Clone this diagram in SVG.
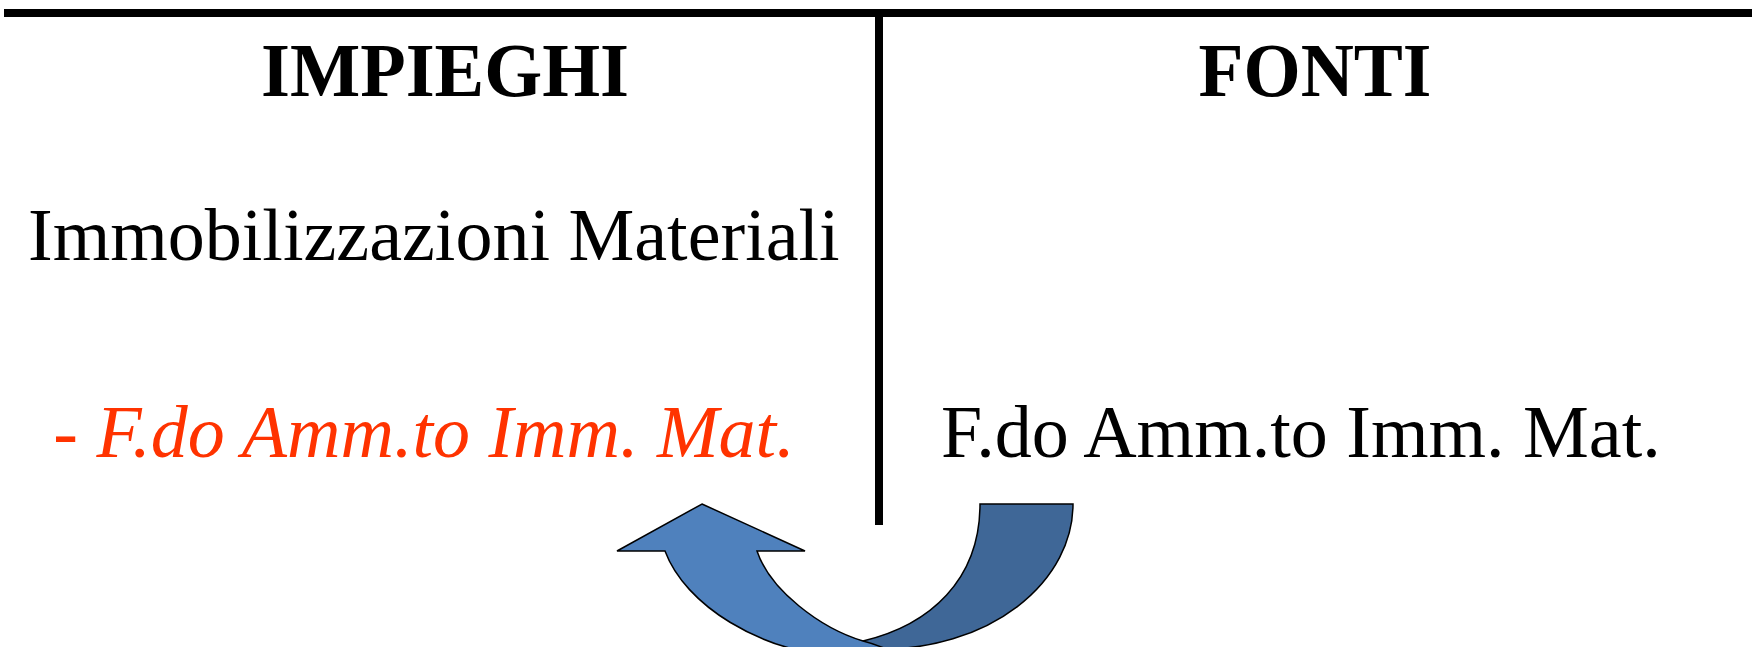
<svg xmlns="http://www.w3.org/2000/svg" width="1756" height="647" viewBox="0 0 1756 647">
<style>
.hdr{font-family:"Liberation Serif","Times New Roman",serif;font-weight:bold;font-size:77px;fill:#000;text-anchor:middle}
.txt{font-family:"Liberation Serif","Times New Roman",serif;font-size:74px;fill:#000}
.red{font-family:"Liberation Serif","Times New Roman",serif;font-size:74px;font-style:italic;fill:#FF3300;text-anchor:middle}
.rule{stroke:#000;stroke-width:8;fill:none}
.arr{stroke:#000;stroke-width:1.5;stroke-linejoin:miter}
</style>
<rect width="1756" height="647" fill="#fff"/>
<g id="lines">
<line class="rule" x1="4" y1="13" x2="1752" y2="13"/>
<line class="rule" x1="879" y1="13" x2="879" y2="525"/>
</g>
<g id="impieghi"><text class="hdr" x="445" y="96" textLength="368" lengthAdjust="spacingAndGlyphs">IMPIEGHI</text></g>
<g id="fonti"><text class="hdr" x="1315" y="96" textLength="233" lengthAdjust="spacingAndGlyphs">FONTI</text></g>
<g id="immobilizzazioni"><text class="txt" x="28" y="260">Immobilizzazioni Materiali</text></g>
<g id="fondo-impieghi"><text class="red" x="424" y="457">- F.do Amm.to Imm. Mat.</text></g>
<g id="fondo-fonti"><text class="txt" x="941" y="457">F.do Amm.to Imm. Mat.</text></g>
<g id="connectors">
<path class="arr" fill="#3F6797" d="M980,504 L1073,504 A190,145 0 0 1 883,649 L850,652 L863,641 C930,625 980,580 980,504 Z"/>
<path class="arr" fill="#4F81BD" d="M702,504 L805,551 L757,551 C770,590 820,628 863,641 C875,644 885,648 900,655 L840,656 C760,652 685,605 665,551 L617,551 Z"/>
</g>
</svg>
